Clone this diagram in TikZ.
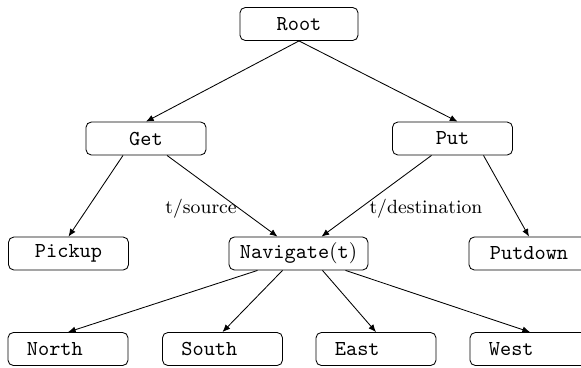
\documentclass[tikz,border=0pt]{standalone}
\usepackage{tikz}
\usetikzlibrary{arrows.meta,positioning,calc}

\begin{document}
\begin{tikzpicture}[
  x=0.47pt, y=-0.47pt,
  font=\ttfamily,
  task/.style ={draw, rounded corners=2.5pt, minimum width=56.4pt, minimum height=15.5pt, inner sep=0pt},
  leaf/.style ={task, text width=38.6pt, inner xsep=8.9pt, align=left},
  lbl/.style  ={font=\rmfamily\small, inner sep=1pt},
  >={Latex[length=3.6pt,width=3pt]}
]
\useasboundingbox (0,0) rectangle (581,367);

\node[task, minimum width=55.5pt] (root) at (299,24) {Root};

\node[task] (get) at (146,138.5) {Get};
\node[task] (put) at (452.5,138.5) {Put};

\node[task] (pickup)   at (68.5,253.5) {Pickup};
\node[task, minimum width=65.3pt] (navigate) at (298.5,253.5) {Navigate{\rmfamily(}t{\rmfamily)}};
\node[task] (putdown)  at (529,253.5) {Putdown};

\node[leaf] (north) at (68,349)    {North};
\node[leaf] (south) at (222.5,349) {South};
\node[leaf] (east)  at (376,349)   {East};
\node[leaf] (west)  at (530,349)   {West};

\draw[->] (root.south) -- (get.north);
\draw[->] (root.south) -- ($(put.north)+(5,0)$);

\draw[->] ($(get.south)+(-23,0)$) -- (pickup.north);
\draw[->] ($(get.south)+(21,0)$) -- ($(navigate.north)+(-21,0)$)
  node[lbl, pos=.654, anchor=east] (srclbl) {t/source};
\draw[->] ($(put.south)+(-21,0)$) -- ($(navigate.north)+(23,0)$)
  node[lbl, pos=.654, anchor=west, xshift=3.5pt] (dstlbl) {t/destination};
\draw[->] ($(put.south)+(31,0)$) -- (putdown.north);

\draw[->] ($(navigate.south)+(-41,0)$) -- (north.north);
\draw[->] ($(navigate.south)+(-16,0)$) -- (south.north);
\draw[->] ($(navigate.south)+(24,0)$)  -- (east.north);
\draw[->] ($(navigate.south)+(47,0)$)  -- (west.north);
\end{tikzpicture}
\end{document}
